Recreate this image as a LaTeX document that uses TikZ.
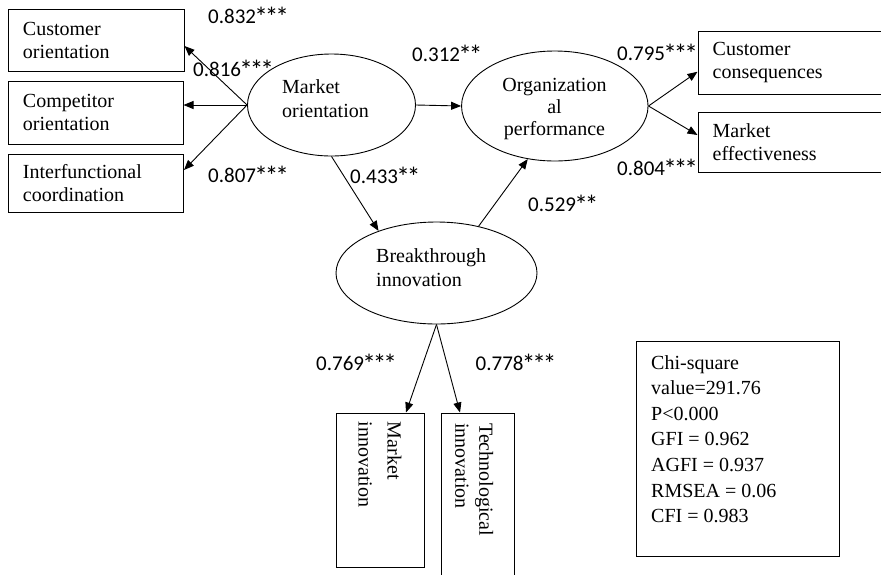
\documentclass[tikz,border=0pt]{standalone}
\usepackage{fontspec}
\usepackage{graphicx}
\setmainfont{Liberation Serif}
\newfontfamily\labfont{Carlito}
\newcommand\mystar{\makebox[10.4pt]{\raisebox{-3.2pt}{\scalebox{1.3}{*}}}}
\usetikzlibrary{arrows.meta,shapes.geometric,calc}
\begin{document}
\begin{tikzpicture}[x=1pt,y=-1pt,
  box/.style={draw, line width=1pt, rectangle, inner sep=0pt, align=left, font=\fontsize{20}{23}\selectfont},
  lat/.style={draw, line width=0.9pt, ellipse, inner sep=0pt},
  txt/.style={inner sep=0pt, font=\fontsize{20}{23}\selectfont},
  arr/.style={line width=0.9pt, -{Triangle[length=10pt,width=8pt]}},
  lab/.style={inner sep=0pt, anchor=base west, font=\labfont\fontsize{21}{25}\selectfont}]
\useasboundingbox (0,0) rectangle (881,574);

% indicator boxes
\node[box, minimum width=176pt, minimum height=62pt, text width=146pt] (cusor) at (96,40) {Customer\\orientation};
\node[box, minimum width=175pt, minimum height=63pt, text width=145pt] (cmpor) at (95.5,112.5) {Competitor\\orientation};
\node[box, minimum width=175.5pt, minimum height=58pt, text width=145.5pt] (intf) at (95.75,183) {Interfunctional\\coordination};
\node[box, minimum width=188pt, minimum height=63.5pt, text width=158.6pt] (cuscons) at (792,62.75) {Customer\\consequences};
\node[box, minimum width=188pt, minimum height=60pt, text width=158.6pt] (meff) at (792,142) {Market\\effectiveness};
\node[box, minimum width=88pt, minimum height=154pt] (mi) at (380,490) {};
\node[box, minimum width=73pt, minimum height=169pt] (ti) at (477.5,497.5) {};
\node[box, minimum width=202.5pt, minimum height=215.5pt] (stats) at (737.75,448.75) {};

% rotated texts and stats text
\node[txt, anchor=north west, rotate=-90, align=left, font=\fontsize{20}{29}\selectfont] (mitext) at (401.7,421.7) {Market\\innovation};
\node[txt, anchor=north west, rotate=-90, align=left, font=\fontsize{20}{24}\selectfont] (titext) at (493.5,423) {Technological\\innovation};
\node[txt, anchor=north west, align=left, font=\fontsize{20}{25.6}\selectfont] (statstext) at (651,355)
  {Chi-square\\value=291.76\\P<0.000\\GFI = 0.962\\AGFI = 0.937\\RMSEA = 0.06\\CFI = 0.983};

% latent variables
\node[lat, minimum width=168pt, minimum height=102pt] (mo) at (331.5,105) {};
\node[lat, minimum width=186.5pt, minimum height=110pt] (op) at (554.8,106) {};
\node[lat, minimum width=201pt, minimum height=102pt] (bi) at (436.5,273) {};
\node[txt, anchor=north west, align=left, font=\fontsize{20}{23.7}\selectfont] (motext) at (282,79.3) {Market\\orientation};
\node[txt, anchor=north, align=center, font=\fontsize{20}{22.2}\selectfont] (optext) at (554.5,78) {Organization\\al\\performance};
\node[txt, anchor=north west, align=left, font=\fontsize{20}{23.5}\selectfont] (bitext) at (376,248.5) {Breakthrough\\innovation};

% connectors
\draw[arr] (mo.west) -- ([yshift=-6pt]cusor.east);
\draw[arr] (mo.west) -- (mo.west -| cmpor.east);
\draw[arr] (mo.west) -- ([yshift=13pt]intf.east);
\draw[arr] (mo.east) -- (op.west);
\draw[arr] (mo.south) -- (bi.144);
\draw[arr] (bi.48) -- (op.243);
\draw[arr] (op.east) -- ([yshift=-9pt]cuscons.west);
\draw[arr] (op.east) -- ([yshift=7pt]meff.west);
\draw[arr] (bi.south) -- ([xshift=26pt]mi.north);
\draw[arr] (bi.south) -- ([xshift=-17.5pt]ti.north);

% coefficients (base west at digit baseline)
\node[lab] (l832) at (208,23.2) {0.832\mystar\mystar\mystar};
\node[lab] (l816) at (193,76.7) {0.816\mystar\mystar\mystar};
\node[lab] (l807) at (208,182.7) {0.807\mystar\mystar\mystar};
\node[lab] (l312) at (412,61.7) {0.312\mystar\mystar};
\node[lab] (l795) at (617,60.2) {0.795\mystar\mystar\mystar};
\node[lab] (l804) at (617,175.2) {0.804\mystar\mystar\mystar};
\node[lab] (l433) at (350,183.2) {0.433\mystar\mystar};
\node[lab] (l529) at (528,211.7) {0.529\mystar\mystar};
\node[lab] (l769) at (316,370.7) {0.769\mystar\mystar\mystar};
\node[lab] (l778) at (475.5,370.7) {0.778\mystar\mystar\mystar};
\end{tikzpicture}
\end{document}
